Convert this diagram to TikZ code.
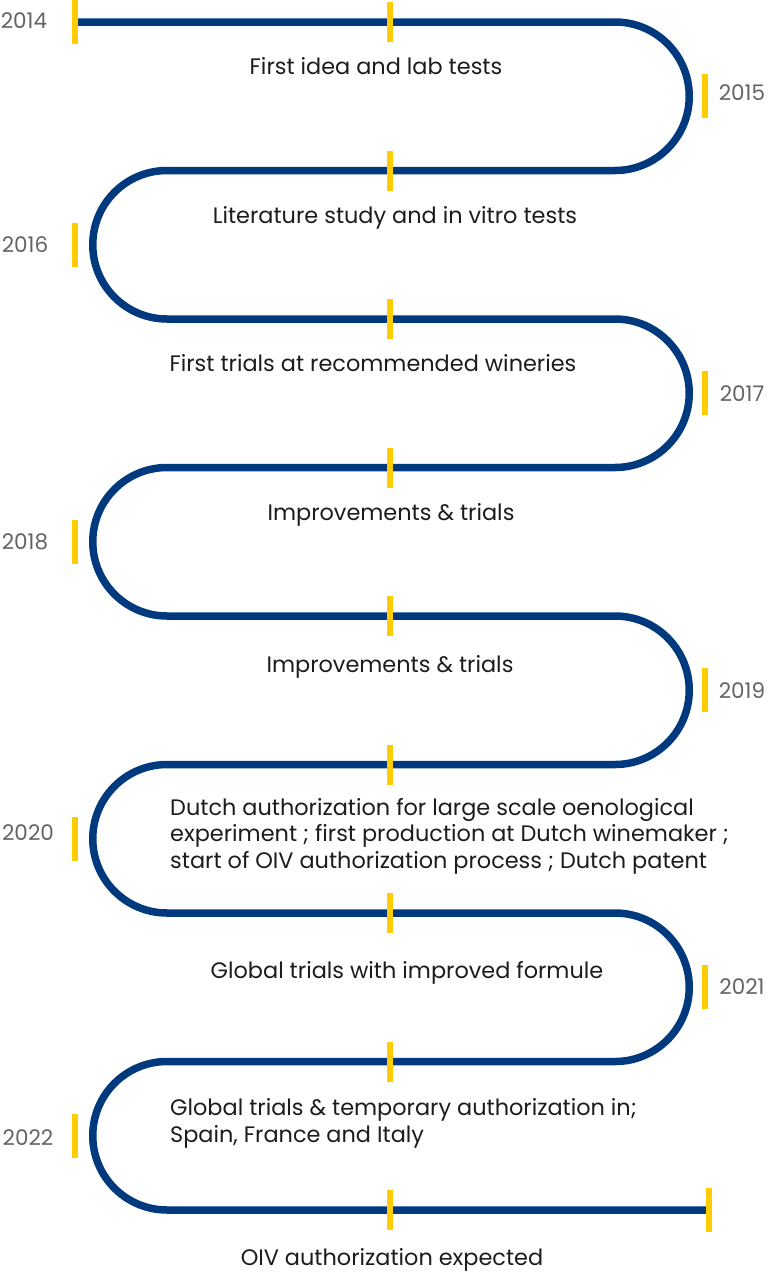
\documentclass[tikz,border=0pt]{standalone}
\usepackage{fontspec}
\setmainfont{Poppins}
\definecolor{tlblue}{RGB}{0,57,125}
\definecolor{tlyellow}{RGB}{255,204,0}
\definecolor{yeargray}{RGB}{100,100,100}
\definecolor{txt}{RGB}{28,28,28}
\begin{document}
\begin{tikzpicture}[x=1pt,y=-1pt,
  road/.style={draw=tlblue,line width=7.5pt},
  tickmark/.style={draw=tlyellow,line width=6.5pt},
  yearlbl/.style={font=\fontsize{21.5}{24}\selectfont,text=yeargray,inner sep=0pt,anchor=base},
  evt/.style={font=\fontsize{22.4}{26.5}\selectfont,text=txt,inner sep=0pt,anchor=base},
  evtblock/.style={evt,align=left,anchor=base west},
]
\useasboundingbox (0,0) rectangle (768,1272);
% serpentine road
\draw[road] (75,22) -- (615,22)
  arc[start angle=-90,end angle=90,radius=74.25] -- (167,170.5)
  arc[start angle=-90,end angle=-270,radius=74.25] -- (615,319)
  arc[start angle=-90,end angle=90,radius=74.25] -- (167,467.5)
  arc[start angle=-90,end angle=-270,radius=74.25] -- (615,616)
  arc[start angle=-90,end angle=90,radius=74.25] -- (167,764.5)
  arc[start angle=-90,end angle=-270,radius=74.25] -- (615,913)
  arc[start angle=-90,end angle=90,radius=74.25] -- (167,1061.5)
  arc[start angle=-90,end angle=-270,radius=74.25] -- (708,1210);
% middle ticks
\foreach \yy in {22,170.5,319,467.5,616,764.5,913,1061.5,1210}
  \draw[tickmark] (390,\yy-20) -- (390,\yy+20);
% start and end ticks
\draw[tickmark] (75,0) -- (75,44);
\draw[tickmark] (709,1188) -- (709,1232);
% side ticks
\foreach \yy in {96.25,393.25,690.25,987.25}
  \draw[tickmark] (705,\yy-22) -- (705,\yy+22);
\foreach \yy in {244.75,541.75,838.75,1135.75}
  \draw[tickmark] (75,\yy-22) -- (75,\yy+22);
% years
\node[yearlbl] (y2014) at (24,28) {2014};
\node[yearlbl] (y2015) at (742,100) {2015};
\node[yearlbl] (y2016) at (25,252) {2016};
\node[yearlbl] (y2017) at (742,401) {2017};
\node[yearlbl] (y2018) at (25,549) {2018};
\node[yearlbl] (y2019) at (742,698) {2019};
\node[yearlbl] (y2020) at (28,840) {2020};
\node[yearlbl] (y2021) at (742,994) {2021};
\node[yearlbl] (y2022) at (28,1145) {2022};
% events
\node[evt] (e1) at (376,74) {First idea and lab tests};
\node[evt] (e2) at (395,223) {Literature study and in vitro tests};
\node[evt] (e3) at (373,371) {First trials at recommended wineries};
\node[evt] (e4) at (391,520) {Improvements \& trials};
\node[evt] (e5) at (390,672) {Improvements \& trials};
\node[evtblock] (e6) at (170,868) {Dutch authorization for large scale oenological\\experiment ; first production at Dutch winemaker ;\\start of OIV authorization process ; Dutch patent};
\node[evt] (e7) at (407,978) {Global trials with improved formule};
\node[evtblock] (e8) at (170,1142) {Global trials \& temporary authorization in;\\Spain, France and Italy};
\node[evt] (e9) at (392,1265) {OIV authorization expected};
\end{tikzpicture}
\end{document}
